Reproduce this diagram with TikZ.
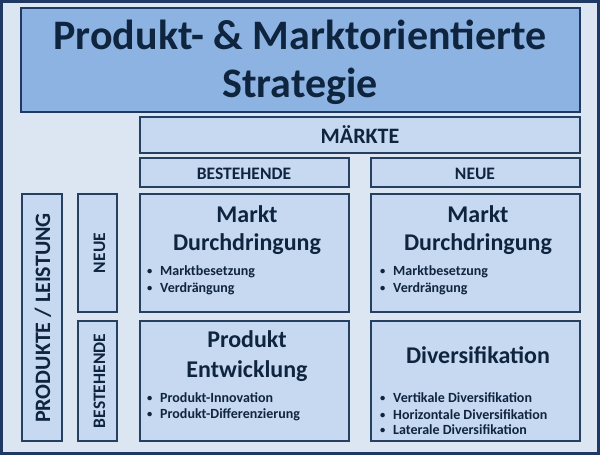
\documentclass[tikz,border=0pt]{standalone}
\usepackage{fontspec}
\setmainfont{Carlito}
\usepackage{xcolor}
\definecolor{mybg}{RGB}{220,230,242}
\definecolor{mybox}{RGB}{198,217,241}
\definecolor{mytitle}{RGB}{141,179,226}
\definecolor{myline}{RGB}{37,64,97}
\definecolor{myframe}{RGB}{31,56,100}
\definecolor{mytext}{RGB}{15,36,62}
\newcommand{\bul}[1]{\makebox[13pt][l]{\raisebox{1pt}{\scalebox{0.75}{\textbullet}}}#1}

\begin{document}
\begin{tikzpicture}[x=1pt,y=-1pt,font=\bfseries,text=mytext]
  \tikzstyle{every node}=[inner sep=0pt]
  \tikzstyle{cell}=[draw=myline,line width=1.5pt,fill=mybox]
  \tikzstyle{head}=[font=\fontsize{24}{28}\selectfont\bfseries,anchor=base]
  \tikzstyle{label}=[font=\fontsize{17.5}{20}\selectfont\bfseries,anchor=base]
  \tikzstyle{item}=[font=\fontsize{14}{17}\selectfont\bfseries,anchor=base west]

  \useasboundingbox (0,0) rectangle (600,455);
  \draw[myframe,line width=3pt,fill=mybg] (1.5,1.5) rectangle (598.5,453.5);

  % boxes
  \node[cell,fill=mytitle,line width=2.5pt,draw=myframe,minimum width=559pt,minimum height=104pt] (T) at (300.5,60) {};
  \node[cell,minimum width=440pt,minimum height=36pt] (M)  at (360,135)   {};
  \node[cell,minimum width=209pt,minimum height=29pt] (MB) at (244.5,172.5) {};
  \node[cell,minimum width=209pt,minimum height=29pt] (MN) at (475.5,172.5) {};
  \node[cell,minimum width=40pt,minimum height=247pt] (P)  at (42,317.5)  {};
  \node[cell,minimum width=39pt,minimum height=118pt] (PN) at (97.5,253)  {};
  \node[cell,minimum width=39pt,minimum height=120pt] (PB) at (97.5,381)  {};
  \node[cell,minimum width=209pt,minimum height=118pt] (A) at (244.5,253) {};
  \node[cell,minimum width=209pt,minimum height=118pt] (B) at (475.5,253) {};
  \node[cell,minimum width=209pt,minimum height=120pt] (C) at (244.5,381) {};
  \node[cell,minimum width=209pt,minimum height=120pt] (D) at (475.5,381) {};

  % texts
  \node[font=\fontsize{42}{50}\selectfont\bfseries,anchor=base] (T1) at (300,49) {Produkt- \& Marktorientierte};
  \node[font=\fontsize{42}{50}\selectfont\bfseries,anchor=base] (T2) at (300,97) {Strategie};
  \node[font=\fontsize{22}{24}\selectfont\bfseries,anchor=base] (M1) at (360,143) {MÄRKTE};
  \node[label] (MB1) at (244,179) {BESTEHENDE};
  \node[label] (MN1) at (475,179) {NEUE};
  \node[font=\fontsize{22}{24}\selectfont\bfseries,anchor=base,rotate=90] (P1) at (50,318) {PRODUKTE / LEISTUNG};
  \node[label,rotate=90] (PN1) at (105,253) {NEUE};
  \node[label,rotate=90] (PB1) at (105,381) {BESTEHENDE};

  \node[head] (A1) at (247,222) {Markt};
  \node[head] (A2) at (247,250) {Durchdringung};
  \node[item] (A3) at (147,275) {\bul{Marktbesetzung}};
  \node[item] (A4) at (147,292) {\bul{Verdrängung}};

  \node[head] (B1) at (478,222) {Markt};
  \node[head] (B2) at (478,250) {Durchdringung};
  \node[item] (B3) at (380,275) {\bul{Marktbesetzung}};
  \node[item] (B4) at (380,292) {\bul{Verdrängung}};

  \node[head] (C1) at (247,347) {Produkt};
  \node[head] (C2) at (247,377) {Entwicklung};
  \node[item] (C3) at (147,402) {\bul{Produkt-Innovation}};
  \node[item] (C4) at (147,418) {\bul{Produkt-Differenzierung}};

  \node[head] (D1) at (478,363) {Diversifikation};
  \node[item] (D2) at (380,402) {\bul{Vertikale Diversifikation}};
  \node[item] (D3) at (380,419) {\bul{Horizontale Diversifikation}};
  \node[item] (D4) at (380,434) {\bul{Laterale Diversifikation}};
\end{tikzpicture}
\end{document}
